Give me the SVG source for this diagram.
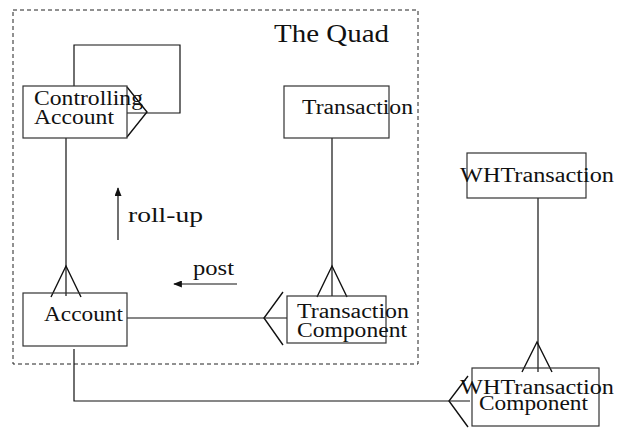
<svg xmlns="http://www.w3.org/2000/svg" width="626" height="428" viewBox="0 0 626 428">
  <style>
    .box { fill: #ffffff; stroke: #333333; stroke-width: 1.2; }
    .wire { fill: none; stroke: #111111; stroke-width: 1.2; }
    .foot { fill: none; stroke: #111111; stroke-width: 1.4; }
    .frame { fill: none; stroke: #222222; stroke-width: 1; stroke-dasharray: 4 3; }
    .lbl { font-family: "Liberation Serif", "Times New Roman", serif; font-size: 20px; fill: #111111; }
    .title { font-family: "Liberation Serif", "Times New Roman", serif; font-size: 26px; fill: #111111; }
  </style>
  <defs>
    <marker id="tip" viewBox="0 0 10 8" refX="9" refY="4" markerWidth="9" markerHeight="7" markerUnits="userSpaceOnUse" orient="auto">
      <path d="M0,0 L10,4 L0,8 Z" fill="#111111"/>
    </marker>
  </defs>

  <!-- dashed boundary of the quad -->
  <g id="quad">
    <rect class="frame" x="13" y="10" width="405" height="354"/>
    <text class="title" x="274" y="42" textLength="115" lengthAdjust="spacingAndGlyphs">The Quad</text>
  </g>

  <!-- relationship lines and crow's feet -->
  <g id="connectors">
    <!-- controlling account self loop -->
    <path class="wire" d="M74,86 V45 H180 V113 H127"/>
    <path class="foot" d="M127,87 L147,112 L127,137"/>
    <!-- controlling account to account -->
    <path class="wire" d="M66,138 V296"/>
    <path class="foot" d="M51,297 L66,266 L81,297"/>
    <!-- transaction to transaction component -->
    <path class="wire" d="M332,138 V296"/>
    <path class="foot" d="M317,297 L332,266 L347,297"/>
    <!-- account to transaction component -->
    <path class="wire" d="M127,318 H287"/>
    <path class="foot" d="M283,292 L264,318 L283,345"/>
    <!-- wh transaction to wh component -->
    <path class="wire" d="M538,198 V372"/>
    <path class="foot" d="M522,372 L537,342 L552,372"/>
    <!-- account to wh component -->
    <path class="wire" d="M74,349 V401 H470"/>
    <path class="foot" d="M468,376 L449,401 L468,427"/>
    <!-- direction hints -->
    <path class="wire" d="M118,240 V188" marker-end="url(#tip)"/>
    <path class="wire" d="M237,284 H174" marker-end="url(#tip)"/>
    <text class="lbl" x="128" y="222" textLength="75" lengthAdjust="spacingAndGlyphs">roll-up</text>
    <text class="lbl" x="193" y="275" textLength="41" lengthAdjust="spacingAndGlyphs">post</text>
  </g>

  <g id="controlling-account">
    <rect class="box" x="23" y="86" width="104" height="52" fill-opacity="0"/>
    <text class="lbl" x="34" y="105" textLength="109" lengthAdjust="spacingAndGlyphs">Controlling</text>
    <text class="lbl" x="34" y="124" textLength="80" lengthAdjust="spacingAndGlyphs">Account</text>
  </g>

  <g id="transaction">
    <rect class="box" x="284" y="86" width="105" height="52" fill-opacity="0"/>
    <text class="lbl" x="302" y="114" textLength="111" lengthAdjust="spacingAndGlyphs">Transaction</text>
  </g>

  <g id="account">
    <rect class="box" x="23" y="293" width="104" height="53" fill-opacity="0"/>
    <text class="lbl" x="44" y="321" textLength="79" lengthAdjust="spacingAndGlyphs">Account</text>
  </g>

  <g id="transaction-component">
    <rect class="box" x="287" y="296" width="99" height="47" fill-opacity="0"/>
    <text class="lbl" x="297" y="318" textLength="112" lengthAdjust="spacingAndGlyphs">Transaction</text>
    <text class="lbl" x="297" y="337" textLength="110" lengthAdjust="spacingAndGlyphs">Component</text>
  </g>

  <g id="wh-transaction">
    <rect class="box" x="467" y="153" width="119" height="45" fill-opacity="0"/>
    <text class="lbl" x="460" y="182" textLength="154" lengthAdjust="spacingAndGlyphs">WHTransaction</text>
  </g>

  <g id="wh-transaction-component">
    <rect class="box" x="472" y="368" width="127" height="58" fill-opacity="0"/>
    <text class="lbl" x="460" y="394" textLength="154" lengthAdjust="spacingAndGlyphs">WHTransaction</text>
    <text class="lbl" x="479" y="410" textLength="109" lengthAdjust="spacingAndGlyphs">Component</text>
  </g>
</svg>
